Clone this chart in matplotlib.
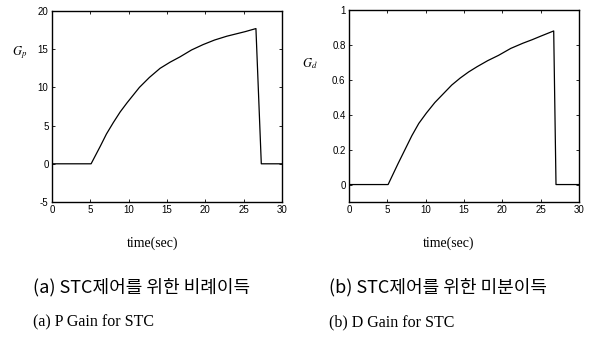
import matplotlib
matplotlib.use("Agg")
import matplotlib.pyplot as plt

plt.rcParams["axes.unicode_minus"] = False
plt.rcParams["font.family"] = ["Liberation Sans", "DejaVu Sans"]

# Data
t_p = [0, 5.1, 6.3, 7.1, 8.0, 8.9, 9.8, 10.6, 11.4, 12.7, 14.1, 15.4, 16.7, 18.2, 19.7, 21.2, 22.8, 24.0, 25.2, 26.6, 27.3, 30]
g_p = [0, 0, 2.3, 3.9, 5.4, 6.8, 8.0, 9.0, 10.0, 11.3, 12.5, 13.3, 14.0, 14.9, 15.6, 16.2, 16.7, 17.0, 17.3, 17.7, 0, 0]
t_d = [0, 5.1, 6.4, 7.3, 8.2, 9.1, 10.1, 11.2, 12.3, 13.4, 14.5, 15.6, 16.7, 18.1, 19.5, 21.1, 22.7, 23.9, 25.0, 26.7, 27.0, 30]
g_d = [0, 0, 0.12, 0.20, 0.28, 0.35, 0.41, 0.47, 0.52, 0.57, 0.61, 0.645, 0.675, 0.71, 0.74, 0.78, 0.81, 0.83, 0.85, 0.88, 0, 0]

xticks = [0, 5, 10, 15, 20, 25, 30]
p_yticks = [-5, 0, 5, 10, 15, 20]
d_yticks = [0, 0.2, 0.4, 0.6, 0.8, 1]
d_yticklabels = ["0", "0.2", "0.4", "0.6", "0.8", "1"]

xlabel = "time(sec)"
cap_kr = ["(a) STC제어를 위한 비례이득", "(b) STC제어를 위한 미분이득"]
cap_en = ["(a) P Gain for STC", "(b) D Gain for STC"]

W, H = 591, 342
fig = plt.figure(figsize=(W / 100, H / 100), dpi=100)

def ax_at(l, t, r, b):
    return fig.add_axes([l / W, 1 - b / H, (r - l) / W, (b - t) / H])

ax1 = ax_at(52, 11, 282, 202)
ax2 = ax_at(349, 10, 579, 202)

for ax in (ax1, ax2):
    ax.set_xlim(0, 30)
    ax.set_xticks(xticks)
    ax.tick_params(direction="in", top=True, right=True, labelsize=7, length=2.5, width=0.6, pad=2.5)
    for s in ax.spines.values():
        s.set_linewidth(1.0)

ax1.plot(t_p, g_p, color="black", lw=0.9)
ax1.set_ylim(-5, 20)
ax1.set_yticks(p_yticks)

ax2.plot(t_d, g_d, color="black", lw=0.9)
ax2.set_ylim(-0.1, 1)
ax2.set_yticks(d_yticks)
ax2.set_yticklabels(d_yticklabels)

serif = ["Liberation Serif", "DejaVu Serif"]
fig.text(20 / W, 1 - 53 / H, r"$G_p$", fontsize=9, family=serif, math_fontfamily="stix",
         ha="center", va="center")
fig.text(310 / W, 1 - 64 / H, r"$G_d$", fontsize=9, family=serif, math_fontfamily="stix",
         ha="center", va="center")

fig.text(153 / W, 1 - 243 / H, xlabel, fontsize=10, family=serif, ha="center", va="center")
fig.text(449 / W, 1 - 243 / H, xlabel, fontsize=10, family=serif, ha="center", va="center")

kr = ["Noto Sans CJK KR", "DejaVu Sans"]
fig.text(33 / W, 1 - 287 / H, cap_kr[0], fontsize=13, family=kr, va="center")
fig.text(329 / W, 1 - 287 / H, cap_kr[1], fontsize=13, family=kr, va="center")
fig.text(33 / W, 1 - 322 / H, cap_en[0], fontsize=11.5, family=serif, va="center")
fig.text(329 / W, 1 - 322 / H, cap_en[1], fontsize=11.5, family=serif, va="center")

fig.savefig("out.png", dpi=100)
